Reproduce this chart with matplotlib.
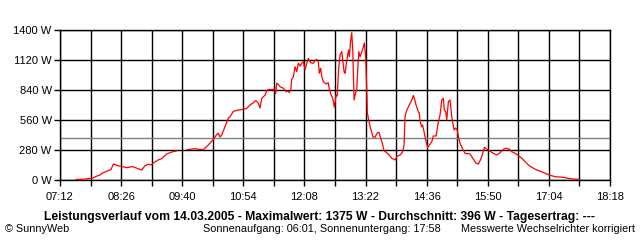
import numpy as np
import matplotlib
matplotlib.use("Agg")
import matplotlib.pyplot as plt

# minutes since midnight, power in W; NaN = gap in recording
minutes = [451.4, 463.5, 465.9, 470.8, 476.8, 480.4, 484.1, 490.1, 493.8, 496.6,
           498.6, 502.2, 507.1, 513.1, 518.0, 520.4, 525.3, 530.9, 534.9, 538.9,
           542.2, 544.6, 550.7, 555.2, 556.7, 561.2, 567.3, 573.7,
           580.0,
           586.2, 595.5, 599.5, 605.6, 611.6, 617.7, 621.8, 623.7, 625.8, 627.8,
           631.8, 635.8, 637.9, 641.9, 647.9, 654.0, 658.1, 662.1, 666.1, 668.2,
           669.4, 672.2, 674.2, 676.3, 680.3, 682.3, 684.3, 692.4, 693.0, 694.4,
           696.0, 698.4, 702.4, 705.7, 708.1, 709.7, 711.4, 712.6, 714.6, 716.6,
           718.7, 720.6, 722.7, 724.7, 726.7, 728.7, 730.8, 732.7, 735.6, 738.8,
           740.8, 742.9, 744.8, 746.0, 747.7, 749.0, 750.9, 754.2, 756.9, 758.2,
           760.2, 762.3, 764.2, 766.3, 767.5, 768.1, 769.3, 771.1, 773.2, 776.0,
           777.2, 779.0, 780.2, 781.4, 782.4, 783.8, 785.3, 786.5, 788.1, 789.9,
           791.3, 792.5, 793.8, 795.3, 797.4, 799.3, 800.5, 802.2, 803.4, 804.2,
           806.6, 808.0, 809.5, 810.7, 813.5, 816.3, 818.3, 820.4, 822.8, 824.4,
           827.7, 830.8, 833.7, 837.7, 840.5, 843.8, 847.0, 848.6, 849.8, 851.9,
           855.9, 858.0, 859.9, 861.1, 863.2, 865.9, 867.2, 868.0, 870.1, 871.0,
           872.8, 875.3, 877.3, 879.3, 882.2, 884.1, 887.4, 890.2, 892.2, 894.3,
           896.2, 897.4, 899.1, 900.3, 902.3, 904.3, 906.4, 907.6, 909.2, 911.0,
           913.2, 914.4, 916.4, 919.7, 922.5, 928.6, 931.8, 935.8, 938.6, 941.5,
           943.9, 945.9, 948.8, 951.9, 956.8, 960.9, 964.9, 968.9, 972.2, 976.2,
           979.1, 983.1, 987.1, 991.2, 995.2, 999.2, 1003.3, 1009.3, 1015.4, 1021.4,
           1025.4, 1031.5, 1041.6, 1049.7, 1059.4]
power = [5, 9, 14, 16, 37, 47, 68, 87, 98, 149,
         145, 133, 126, 115, 123, 124, 109, 93, 133, 147,
         140, 156, 187, 199, 212, 243, 261, 273,
         np.nan,
         283, 292, 287, 283, 327, 380, 425, 436, 401, 420,
         497, 576, 591, 641, 653, 660, 669, 700, 721, 737,
         740, 716, 672, 762, 793, 831, 845, 845, 807, 902,
         896, 871, 856, 824, 833, 815, 840, 940, 964, 1057,
         1011, 1089, 1064, 1089, 1104, 1027, 1089, 1136, 1095, 1089,
         1113, 1127, 1104, 996, 1043, 964, 917, 896, 908, 843,
         796, 762, 679, 793, 784, 840, 1027, 1167, 1199, 1008,
         996, 1101, 1157, 1213, 1151, 1288, 1375, 1213, 747, 812,
         840, 1027, 1199, 1151, 1199, 1241, 1279, 1139, 859, 625,
         529, 481, 448, 404, 399, 441, 445, 389, 327, 273,
         255, 233, 203, 187, 224, 233, 264, 327, 591, 653,
         716, 747, 789, 762, 700, 637, 622, 544, 497, 513,
         451, 357, 303, 327, 357, 411, 411, 544, 607, 747,
         762, 653, 637, 560, 731, 747, 591, 529, 467, 485,
         462, 404, 343, 287, 249, 243, 203, 156, 149, 193,
         249, 305, 287, 273, 249, 233, 255, 287, 296, 287,
         264, 249, 227, 203, 171, 140, 119, 93, 77, 56,
         44, 31, 25, 12, 7]

average = 396
x_start, x_end, x_step = 7 * 60 + 12, 18 * 60 + 18, 37
y_ticks = [0, 280, 560, 840, 1120, 1400]

title = ("Leistungsverlauf vom 14.03.2005 - Maximalwert: 1375 W - "
         "Durchschnitt: 396 W - Tagesertrag: ---")

plt.rcParams['font.family'] = ['Liberation Sans', 'DejaVu Sans']

fig = plt.figure(figsize=(6.4, 2.4), dpi=100)
ax = fig.add_axes([60 / 640, 1 - 180 / 240, 550 / 640, 150 / 240])

grid = np.arange(x_start, x_end + 1, x_step)
for g in grid:
    ax.axvline(g, color='black', linewidth=1.0, zorder=1)
for v in y_ticks:
    ax.axhline(v, color='black', linewidth=1.0, zorder=1)
ax.axhline(average, color='#808080', linewidth=1.0, zorder=2)

ax.plot(minutes, power, color='red', linewidth=0.9, zorder=3)

ax.set_xlim(x_start, x_end)
ax.set_ylim(0, 1400)
ax.set_xticks(grid[::2])
ax.set_xticks(grid, minor=True)
ax.set_xticklabels([f"{int(t) // 60:02d}:{int(t) % 60:02d}" for t in grid[::2]])
ax.set_yticks(y_ticks)
ax.set_yticklabels([f"{v} W" for v in y_ticks])
ax.tick_params(axis='both', which='both', length=4, width=1.0, color='black',
               labelsize=8, pad=2)
ax.tick_params(axis='x', pad=5)
for s in ax.spines.values():
    s.set_linewidth(1.0)

fig.text(320 / 640, 1 - 217 / 240, title, ha='center', va='center',
         fontsize=8.7, fontweight='bold')
fig.text(5 / 640, 1 - 229 / 240, "© SunnyWeb", ha='left', va='center', fontsize=7.8)
fig.text(203 / 640, 1 - 229 / 240, "Sonnenaufgang: 06:01, Sonnenuntergang: 17:58",
         ha='left', va='center', fontsize=7.8)
fig.text(635 / 640, 1 - 229 / 240, "Messwerte Wechselrichter korrigiert",
         ha='right', va='center', fontsize=7.8)

fig.savefig("out.png", dpi=100)
